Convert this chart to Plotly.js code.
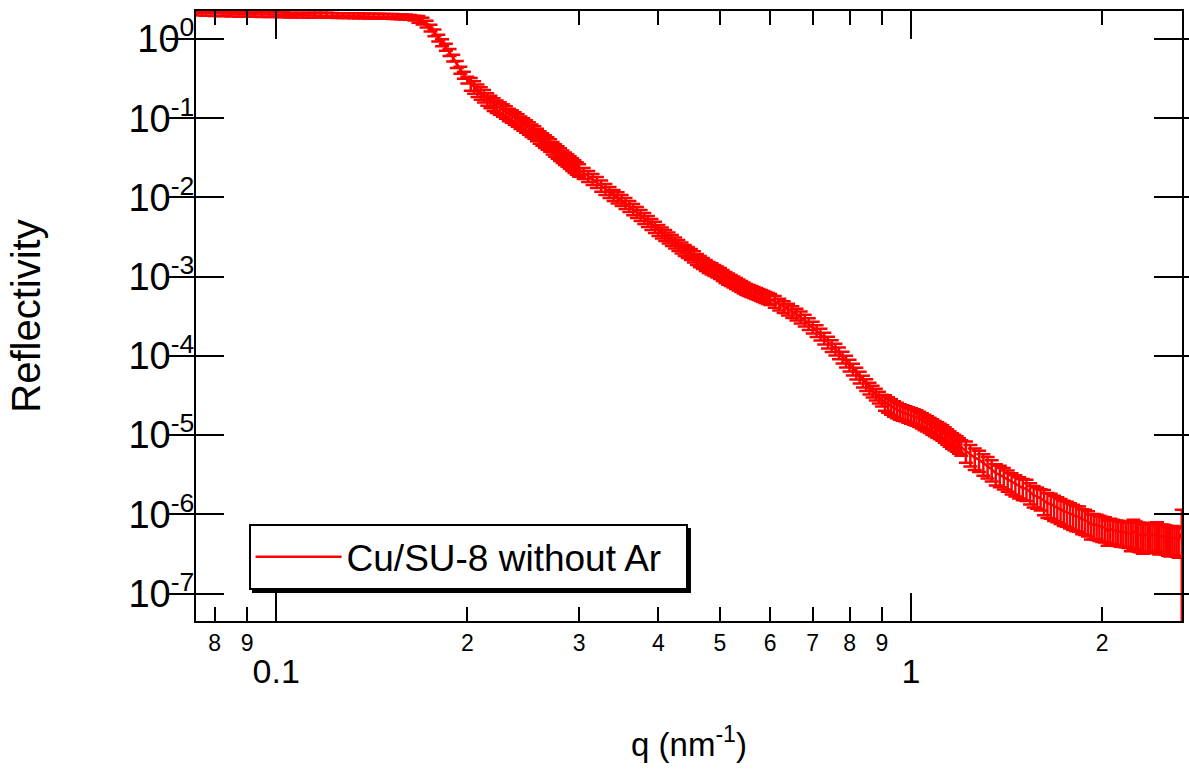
<!DOCTYPE html>
<html>
<head>
<meta charset="utf-8">
<script src="https://cdn.plot.ly/plotly-3.0.1.min.js"></script>
<style>html,body{margin:0;padding:0;background:#fff;}#chart{width:1189px;height:776px;}</style>
</head>
<body>
<div id="chart"></div>
<script>
// ---- readings, first pass: q (nm^-1) and reflectivity ----
const qA = [
0.075,0.080,0.085,0.090,0.095,0.100,0.105,0.110,0.115,0.120,0.125,0.130,0.135,0.140,0.145,0.150,0.155,0.160,0.165,
0.170,0.175,0.180,0.185,0.190,0.195,0.200,0.205,0.210,0.215,0.220,0.225,0.230,0.235,0.240,0.245,0.250,0.255,0.260,0.265,0.270,0.275,0.280,0.285,0.290,0.295,0.300,
0.31,0.32,0.33,0.34,0.35,0.36,0.37,0.38,0.39,0.40,0.41,0.42,0.43,0.44,0.45,0.46,0.47,0.48,0.49,0.50,0.51,0.52,0.53,0.54,0.55,0.56,0.57,0.58,0.59,0.60,
0.62,0.64,0.66,0.68,0.70,0.72,0.74,0.76,0.78,0.80,0.82,0.84,0.86,0.88,0.90,0.92,0.94,0.96,0.98,1.00,1.02,1.04,1.06,1.08,1.10,1.12,1.14,1.16,1.18,1.20,
1.24,1.28,1.32,1.36,1.40,1.44,1.48,1.52,1.56,1.60,1.64,1.68,1.72,1.76,1.80,1.84,1.88,1.92,1.96,2.00,2.04,2.08,2.12,2.16,2.20,2.24,2.28,2.32,2.36,2.40,2.44,2.48,2.52,2.56,2.60,2.64,2.67
];
const rA = [
2.13,2.10,2.07,2.07,2.04,2.04,2.01,2.01,2.01,2.00,1.98,1.98,1.97,1.95,1.95,1.94,1.92,1.90,1.84,
1.69,1.38,1.03,0.79,0.576,0.406,0.304,0.248,0.208,0.175,0.151,0.1345,0.1198,0.1066,0.0949,0.0845,0.0752,0.0670,0.0579,0.0515,0.0459,0.0397,0.0353,0.0314,0.0280,0.0249,0.0222,
0.01863,0.01565,0.01277,0.01072,0.00927,0.00779,0.00654,0.00550,0.00461,0.00388,0.00335,0.00290,0.00251,0.00217,0.00193,0.00167,0.001485,0.001322,0.001212,0.001110,0.000988,0.000906,0.000830,0.000761,0.000697,0.000658,0.000621,0.000586,0.000553,0.000522,
0.000451,0.000390,0.000337,0.000283,0.000231,0.000188,0.000149,0.0001219,0.0000966,0.0000765,0.0000606,0.0000480,0.0000392,0.0000329,0.0000277,0.0000246,0.0000219,0.0000201,0.0000190,0.0000179,0.0000169,0.0000155,0.0000142,0.0000130,0.0000119,0.0000109,0.00000971,0.00000865,0.00000793,0.00000706,
5.76e-6,4.9e-6,4.06e-6,3.3e-6,2.95e-6,2.55e-6,2.27e-6,2.1e-6,1.75e-6,1.60e-6,1.38e-6,1.27e-6,1.16e-6,1.07e-6,9.77e-7,9.3e-7,8.45e-7,7.4e-7,7.31e-7,6.89e-7,6.2e-7,6.32e-7,6.14e-7,5.96e-7,5.79e-7,6.1e-7,5.62e-7,5.3e-7,5.46e-7,5.46e-7,5.7e-7,5.31e-7,5.15e-7,4.9e-7,5.01e-7,4.72e-7,5.8e-7
];
const relErrA = [
0.07,0.07,0.07,0.07,0.07,0.07,0.07,0.07,0.07,0.07,0.07,0.07,0.07,0.07,0.07,0.07,0.07,0.07,0.07,
0.10,0.10,0.10,0.10,0.10,0.10,0.10,0.18,0.18,0.18,0.18,0.18,0.18,0.18,0.18,0.18,0.18,0.18,0.18,0.18,0.18,0.18,0.18,0.18,0.18,0.18,0.18,
0.16,0.16,0.16,0.16,0.16,0.16,0.16,0.16,0.16,0.16,0.16,0.16,0.16,0.16,0.16,0.16,0.16,0.16,0.16,0.16,0.16,0.16,0.16,0.16,0.16,0.16,0.16,0.16,0.16,0.16,
0.17,0.17,0.17,0.17,0.17,0.17,0.17,0.17,0.17,0.17,0.17,0.17,0.17,0.17,0.17,0.22,0.22,0.22,0.22,0.22,0.22,0.22,0.22,0.22,0.22,0.22,0.22,0.22,0.22,0.22,
0.30,0.30,0.30,0.30,0.30,0.30,0.30,0.30,0.30,0.30,0.35,0.35,0.35,0.35,0.35,0.35,0.35,0.35,0.35,0.35,0.35,0.35,0.35,0.35,0.35,0.40,0.40,0.40,0.40,0.40,0.40,0.40,0.40,0.40,0.40,0.40,0.97
];
// ---- readings, second pass (points between the first-pass ones) ----
const qB = [
0.0775,0.0825,0.0875,0.0925,0.0975,0.1025,0.1075,0.1125,0.1175,0.1225,0.1275,0.1325,0.1375,0.1425,0.1475,0.1525,0.1575,0.1625,
0.1675,0.1725,0.1775,0.1825,0.1875,0.1925,0.1975,0.2025,0.2075,0.2125,0.2175,0.2225,0.2275,0.2325,0.2375,0.2425,0.2475,0.2525,0.2575,0.2625,0.2675,0.2725,0.2775,0.2825,0.2875,0.2925,0.2975,
0.305,0.315,0.325,0.335,0.345,0.355,0.365,0.375,0.385,0.395,0.405,0.415,0.425,0.435,0.445,0.455,0.465,0.475,0.485,0.495,0.505,0.515,0.525,0.535,0.545,0.555,0.565,0.575,0.585,0.595,
0.61,0.63,0.65,0.67,0.69,0.71,0.73,0.75,0.77,0.79,0.81,0.83,0.85,0.87,0.89,0.91,0.93,0.95,0.97,0.99,1.01,1.03,1.05,1.07,1.09,1.11,1.13,1.15,1.17,1.19,
1.22,1.26,1.30,1.34,1.38,1.42,1.46,1.50,1.54,1.58,1.62,1.66,1.70,1.74,1.78,1.82,1.86,1.90,1.94,1.98,2.02,2.06,2.10,2.14,2.18,2.22,2.26,2.30,2.34,2.38,2.42,2.46,2.50,2.54,2.58,2.62
];
const rB = [
2.12,2.08,2.06,2.05,2.04,2.03,2.01,2.00,2.01,1.99,1.98,1.97,1.96,1.95,1.94,1.93,1.91,1.88,
1.78,1.55,1.20,0.90,0.68,0.48,0.35,0.272,0.226,0.192,0.163,0.142,0.127,0.112,0.101,0.0893,0.0800,0.0706,0.0626,0.0547,0.0489,0.0424,0.0375,0.0332,0.0297,0.0264,0.0236,
0.0203,0.0171,0.0141,0.0117,0.0100,0.0085,0.00712,0.00600,0.00503,0.00424,0.00360,0.00312,0.00270,0.00233,0.00205,0.00180,0.00157,0.00140,0.00127,0.00116,0.00105,0.000945,0.000868,0.000795,0.000728,0.000677,0.000640,0.000603,0.000569,0.000537,
0.000487,0.000420,0.000363,0.000310,0.000256,0.000208,0.000168,0.000135,0.000109,0.0000860,0.0000680,0.0000540,0.0000434,0.0000360,0.0000302,0.0000261,0.0000232,0.0000210,0.0000195,0.0000184,0.0000174,0.0000162,0.0000148,0.0000136,0.0000124,0.0000114,0.0000103,0.00000918,0.00000829,0.00000748,
6.4e-6,5.2e-6,4.4e-6,3.7e-6,3.15e-6,2.75e-6,2.4e-6,2.15e-6,1.9e-6,1.68e-6,1.5e-6,1.35e-6,1.22e-6,1.1e-6,1.02e-6,9.4e-7,8.6e-7,8.1e-7,7.5e-7,7.1e-7,6.8e-7,6.5e-7,6.2e-7,6.0e-7,5.9e-7,5.7e-7,5.8e-7,5.5e-7,5.6e-7,5.4e-7,5.5e-7,5.2e-7,5.3e-7,5.0e-7,5.1e-7,4.9e-7
];
const relErrB = [
0.07,0.07,0.07,0.07,0.07,0.07,0.07,0.07,0.07,0.07,0.07,0.07,0.07,0.07,0.07,0.07,0.07,0.07,
0.10,0.10,0.10,0.10,0.10,0.10,0.10,0.18,0.18,0.18,0.18,0.18,0.18,0.18,0.18,0.18,0.18,0.18,0.18,0.18,0.18,0.18,0.18,0.18,0.18,0.18,0.18,
0.16,0.16,0.16,0.16,0.16,0.16,0.16,0.16,0.16,0.16,0.16,0.16,0.16,0.16,0.16,0.16,0.16,0.16,0.16,0.16,0.16,0.16,0.16,0.16,0.16,0.16,0.16,0.16,0.16,0.16,
0.17,0.17,0.17,0.17,0.17,0.17,0.17,0.17,0.17,0.17,0.17,0.17,0.17,0.17,0.17,0.22,0.22,0.22,0.22,0.22,0.22,0.22,0.22,0.22,0.22,0.22,0.22,0.22,0.22,0.22,
0.30,0.30,0.30,0.30,0.30,0.30,0.30,0.30,0.30,0.30,0.35,0.35,0.35,0.35,0.35,0.35,0.35,0.35,0.35,0.35,0.35,0.35,0.35,0.35,0.35,0.40,0.40,0.40,0.40,0.40,0.40,0.40,0.40,0.40,0.40,0.40
];
const seriesName = 'Cu/SU-8 without Ar';
const yTickVals = [1e-7,1e-6,1e-5,1e-4,1e-3,1e-2,1e-1,1];
const yTickText = ['10<sup>-7</sup>','10<sup>-6</sup>','10<sup>-5</sup>','10<sup>-4</sup>','10<sup>-3</sup>','10<sup>-2</sup>','10<sup>-1</sup>','10<sup>0</sup>'];
const xMajorVals = [0.1, 1];
const xMajorText = ['0.1', '1'];
const xMinorVals = [0.08,0.09,0.2,0.3,0.4,0.5,0.6,0.7,0.8,0.9,2];
const xMinorText = ['8','9','2','3','4','5','6','7','8','9','2'];

// merge both passes, ordered by q
const pts = qA.map((v, i) => [v, rA[i], relErrA[i]]).concat(qB.map((v, i) => [v, rB[i], relErrB[i]]))
  .sort((a, b) => a[0] - b[0]);
const q = pts.map(p => p[0]);
const refl = pts.map(p => p[1]);
const errAbs = pts.map(p => p[1] * p[2]);

const FONT = 'Liberation Sans, Arial, Helvetica, sans-serif';
const xRange = [Math.log10(0.07475), Math.log10(2.672)];
const yRange = [-7.346, 0.3535];

const trace = {
  x: q, y: refl, type: 'scatter', mode: 'lines', name: seriesName,
  line: {color: '#ff0000', width: 2.5},
  error_y: {type: 'data', array: errAbs, visible: true, color: '#ff0000', thickness: 2.5, width: 7},
  xaxis: 'x', yaxis: 'y'
};

const layout = {
  width: 1189, height: 776,
  margin: {l: 196, r: 7, t: 11, b: 155, pad: 0},
  paper_bgcolor: '#fff', plot_bgcolor: '#fff',
  font: {family: FONT, color: '#000'},
  showlegend: true,
  xaxis: {
    type: 'log', range: xRange, tickmode: 'array', tickvals: xMajorVals, ticktext: xMajorText,
    ticks: 'inside', ticklen: 28, tickwidth: 2, tickcolor: '#000',
    showline: true, linewidth: 2, linecolor: '#000', mirror: 'allticks',
    showgrid: false, zeroline: false, tickfont: {size: 34, color: '#000'},
    ticklabelstandoff: 19,
    title: {text: 'q (nm<sup>-1</sup>)', font: {size: 33, color: '#000'}, standoff: 44}
  },
  xaxis2: {
    type: 'log', range: xRange, overlaying: 'x', anchor: 'y', side: 'bottom',
    tickmode: 'array', tickvals: xMinorVals, ticktext: xMinorText,
    ticks: 'inside', ticklen: 14, tickwidth: 2, tickcolor: '#000',
    showline: false, mirror: 'allticks', showgrid: false, zeroline: false,
    tickfont: {size: 23, color: '#000'}, ticklabelstandoff: 6
  },
  yaxis: {
    type: 'log', range: yRange, tickmode: 'array', tickvals: yTickVals, ticktext: yTickText,
    ticks: 'inside', ticklen: 28, tickwidth: 2, tickcolor: '#000',
    showline: true, linewidth: 2, linecolor: '#000', mirror: 'allticks',
    showgrid: false, zeroline: false, tickfont: {size: 38, color: '#000'},
    ticklabelstandoff: -8,
    title: {text: 'Reflectivity', font: {size: 40, color: '#000'}, standoff: 75}
  },
  legend: {
    orientation: 'h',
    x: 0.0533, y: 0.1586, xanchor: 'left', yanchor: 'top',
    bgcolor: '#fff', bordercolor: '#000', borderwidth: 2,
    font: {size: 37, color: '#000'}, itemwidth: 86,
    entrywidthmode: 'pixels', entrywidth: 334
  },
  shapes: [{
    type: 'rect', xref: 'paper', yref: 'paper', layer: 'above',
    x0: 0.0568, x1: 0.502, y0: 0.0459, y1: 0.1525,
    fillcolor: '#000', line: {width: 0}
  }]
};

Plotly.newPlot('chart', [trace, {x: [], y: [], xaxis: 'x2', yaxis: 'y', showlegend: false, type: 'scatter'}], layout, {staticPlot: true});
</script>
</body>
</html>
